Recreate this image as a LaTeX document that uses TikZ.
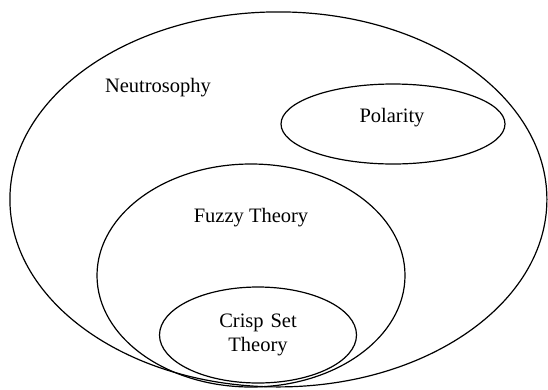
\documentclass[tikz,border=0pt]{standalone}
\usepackage{fontspec}
\setmainfont{Liberation Serif}
\usetikzlibrary{shapes.geometric}
\tikzset{
  setshape/.style={draw=black, line width=1.2pt, ellipse, inner sep=0pt},
  lbl/.style={font=\fontsize{20.5}{24}\selectfont, inner sep=0pt, align=center}
}
\begin{document}
\begin{tikzpicture}[x=1pt,y=-1pt]
\useasboundingbox (0,0) rectangle (548,389);
\node[setshape, minimum width=537pt, minimum height=375pt] (neu) at (278.4,199.4) {};
\node[setshape, minimum width=224pt, minimum height=80pt] (pol) at (393,124) {};
\node[setshape, minimum width=308pt, minimum height=223pt] (fuz) at (251,275.5) {};
\node[setshape, minimum width=197pt, minimum height=96pt] (cri) at (258,335) {};
\node[lbl] (tneu) at (158,88) {Neutrosophy};
\node[lbl] (tpol) at (392,118) {Polarity};
\node[lbl] (tfuz) at (251,218) {Fuzzy Theory};
\node[lbl, text width=120pt, font=\fontsize{20.5}{24.5}\selectfont] (tcri) at (258,335) {Crisp Set\\Theory};
\end{tikzpicture}
\end{document}
